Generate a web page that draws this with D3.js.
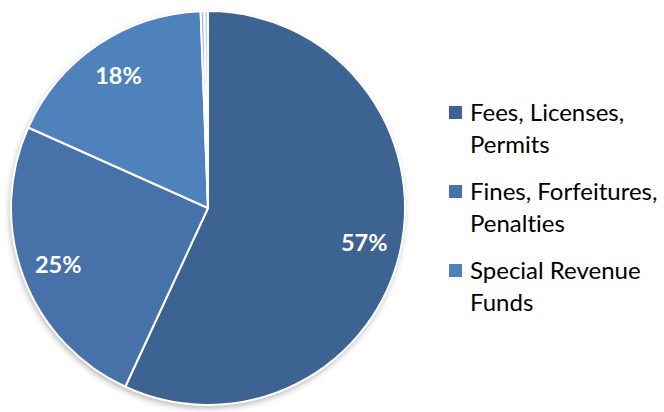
<!DOCTYPE html>
<html>
<head>
<meta charset="utf-8">
<script src="https://cdn.jsdelivr.net/npm/d3@7"></script>
<style>
  html, body { margin: 0; padding: 0; background: #fff; }
  svg { display: block; }
  text { font-variant-ligatures: none; }
</style>
</head>
<body>
<svg id="chart" width="664" height="412"></svg>
<script>
// Revenue share by source
const categories = [
  "Fees, Licenses, Permits",
  "Fines, Forfeitures, Penalties",
  "Special Revenue Funds",
  "Other Revenue A",
  "Other Revenue B"
];
const values = [56.9, 24.8, 17.7, 0.3, 0.3];
const colors = ["#3d6393", "#4672a9", "#4f81bd", "#9db5dc", "#c5d4ec"];
// Legend rows (wrapped as in the layout)
const legendLines = [
  ["Fees, Licenses,", "Permits"],
  ["Fines, Forfeitures,", "Penalties"],
  ["Special Revenue", "Funds"]
];

const svg = d3.select("#chart");
const cx = 208, cy = 208, r = 197;
const labelR = 160;

const defs = svg.append("defs");
const f = defs.append("filter").attr("id", "shadow")
  .attr("x", "-10%").attr("y", "-10%").attr("width", "120%").attr("height", "120%");
f.append("feDropShadow").attr("dx", -1).attr("dy", 3)
  .attr("stdDeviation", 3).attr("flood-color", "#000").attr("flood-opacity", 0.3);

const total = d3.sum(values);
const data = categories.map((c, i) => ({ name: c, value: values[i], color: colors[i] }));

const pie = d3.pie().value(d => d.value).sort(null);
const arcs = pie(data);
const arc = d3.arc().innerRadius(0).outerRadius(r);
const labelArc = d3.arc().innerRadius(labelR).outerRadius(labelR);

const g = svg.append("g").attr("transform", `translate(${cx},${cy})`);

// shadow disc under the pie
g.append("circle").attr("r", r).attr("fill", "#fff").attr("filter", "url(#shadow)");

g.selectAll("path.slice").data(arcs).join("path")
  .attr("class", "slice")
  .attr("d", arc)
  .attr("fill", d => d.data.color)
  .attr("stroke", "#fff")
  .attr("stroke-width", 2)
  .attr("stroke-linejoin", "round");

// percentage labels on the larger slices
g.selectAll("text.pct").data(arcs.filter(d => d.data.value / total >= 0.05)).join("text")
  .attr("class", "pct")
  .attr("transform", d => `translate(${labelArc.centroid(d)})`)
  .attr("text-anchor", "middle")
  .attr("dy", "0.36em")
  .attr("fill", "#fff")
  .attr("font-family", "Lato, 'Open Sans', sans-serif")
  .attr("font-weight", "bold")
  .attr("font-size", 23.5)
  .text(d => Math.round(d.data.value / total * 100) + "%");

// legend
const leg = svg.append("g").attr("transform", "translate(449,0)");
legendLines.forEach((lines, i) => {
  const y0 = 113 + i * 79;
  leg.append("rect").attr("x", 0).attr("y", y0 - 7).attr("width", 13).attr("height", 13)
    .attr("fill", colors[i]);
  lines.forEach((t, j) => {
    leg.append("text")
      .attr("x", 21).attr("y", y0 + j * 32)
      .attr("dy", "0.35em")
      .attr("font-family", "Lato, 'Open Sans', sans-serif")
      .attr("font-size", 24)
      .attr("fill", "#000")
      .text(t);
  });
});
</script>
</body>
</html>
